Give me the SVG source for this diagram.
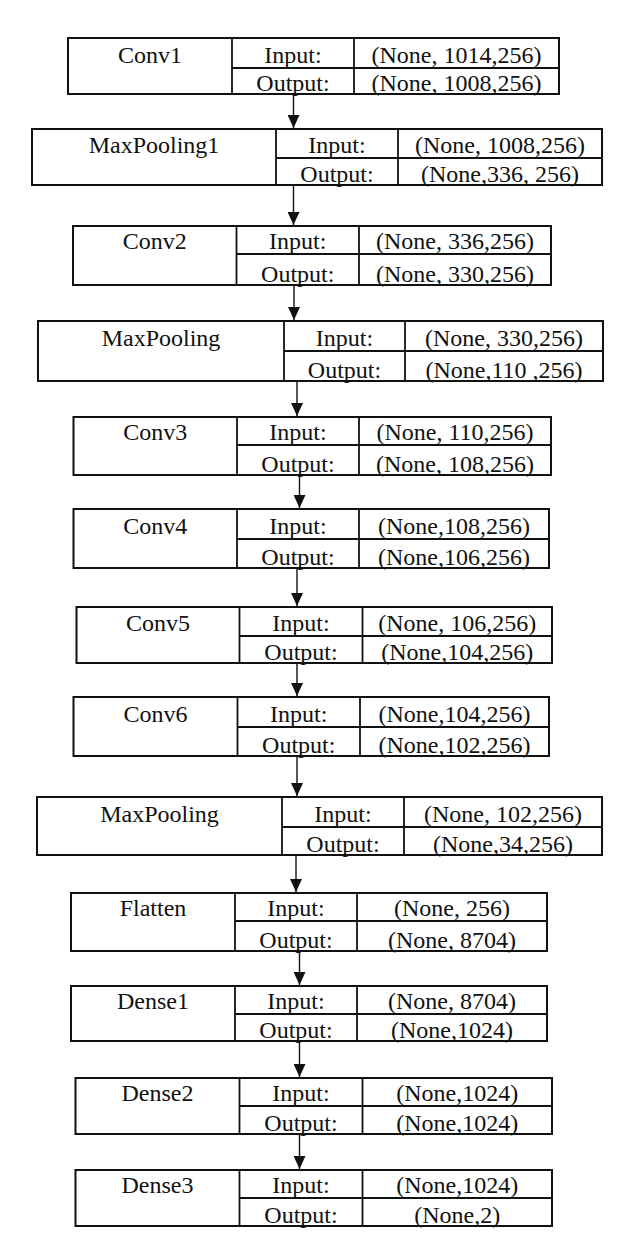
<svg xmlns="http://www.w3.org/2000/svg" width="636" height="1248" viewBox="0 0 636 1248" font-family="'Liberation Serif', 'DejaVu Serif', serif">
<style>
rect.box{fill:#fff;stroke:#111;stroke-width:2}
line.dv{stroke:#111;stroke-width:1.8}
text{font-family:'Liberation Serif','DejaVu Serif',serif;font-size:24px;fill:#111;text-anchor:middle}
line.ar{stroke:#111;stroke-width:1.4}
</style>
<defs>
<marker id="ah" viewBox="0 0 13 12" refX="13" refY="6" markerWidth="13" markerHeight="12" markerUnits="userSpaceOnUse" orient="auto">
<path d="M0,0 L13,6 L0,12 z" fill="#111"/>
</marker>
</defs>
<rect width="636" height="1248" fill="#fff"/>

<g id="connectors">
<line class="ar" x1="293.5" y1="95" x2="293.5" y2="128" marker-end="url(#ah)"/>
<line class="ar" x1="293.5" y1="186" x2="293.5" y2="225" marker-end="url(#ah)"/>
<line class="ar" x1="294" y1="286" x2="294" y2="320" marker-end="url(#ah)"/>
<line class="ar" x1="297" y1="382" x2="297" y2="416" marker-end="url(#ah)"/>
<line class="ar" x1="299.5" y1="476" x2="299.5" y2="508" marker-end="url(#ah)"/>
<line class="ar" x1="297" y1="569" x2="297" y2="606" marker-end="url(#ah)"/>
<line class="ar" x1="297" y1="664" x2="297" y2="696" marker-end="url(#ah)"/>
<line class="ar" x1="297" y1="757" x2="297" y2="796" marker-end="url(#ah)"/>
<line class="ar" x1="296" y1="856" x2="296" y2="892" marker-end="url(#ah)"/>
<line class="ar" x1="299.5" y1="952" x2="299.5" y2="985" marker-end="url(#ah)"/>
<line class="ar" x1="299.5" y1="1042" x2="299.5" y2="1077" marker-end="url(#ah)"/>
<line class="ar" x1="299.5" y1="1135" x2="299.5" y2="1169" marker-end="url(#ah)"/>
</g>

<g id="conv1">
<rect class="box" x="68" y="38" width="491" height="56"/>
<line class="dv" x1="232" y1="38" x2="232" y2="94"/><line class="dv" x1="354" y1="38" x2="354" y2="94"/><line class="dv" x1="232" y1="68" x2="559" y2="68"/>
<text x="150" y="63">Conv1</text><text x="293" y="63">Input:</text><text x="456.5" y="63">(None, 1014,256)</text>
<text x="293" y="90.5">Output:</text><text x="456.5" y="90.5">(None, 1008,256)</text>
</g>

<g id="maxpooling1">
<rect class="box" x="32" y="129" width="570" height="56"/>
<line class="dv" x1="276" y1="129" x2="276" y2="185"/><line class="dv" x1="398" y1="129" x2="398" y2="185"/><line class="dv" x1="276" y1="158" x2="602" y2="158"/>
<text x="154" y="153">MaxPooling1</text><text x="337" y="153">Input:</text><text x="500" y="153">(None, 1008,256)</text>
<text x="337" y="181.5">Output:</text><text x="500" y="181.5">(None,336, 256)</text>
</g>

<g id="conv2">
<rect class="box" x="73" y="226" width="478" height="59"/>
<line class="dv" x1="236.5" y1="226" x2="236.5" y2="285"/><line class="dv" x1="359" y1="226" x2="359" y2="285"/><line class="dv" x1="236.5" y1="254" x2="551" y2="254"/>
<text x="154.75" y="249">Conv2</text><text x="297.75" y="249">Input:</text><text x="455" y="249">(None, 336,256)</text>
<text x="297.75" y="281.5">Output:</text><text x="455" y="281.5">(None, 330,256)</text>
</g>

<g id="maxpooling2">
<rect class="box" x="38" y="321" width="565" height="60"/>
<line class="dv" x1="284" y1="321" x2="284" y2="381"/><line class="dv" x1="405" y1="321" x2="405" y2="381"/><line class="dv" x1="284" y1="351" x2="603" y2="351"/>
<text x="161" y="346">MaxPooling</text><text x="344.5" y="346">Input:</text><text x="504" y="346">(None, 330,256)</text>
<text x="344.5" y="377.5">Output:</text><text x="504" y="377.5">(None,110 ,256)</text>
</g>

<g id="conv3">
<rect class="box" x="73.5" y="417" width="477.5" height="58"/>
<line class="dv" x1="237" y1="417" x2="237" y2="475"/><line class="dv" x1="359" y1="417" x2="359" y2="475"/><line class="dv" x1="237" y1="445" x2="551" y2="445"/>
<text x="155.25" y="440">Conv3</text><text x="298" y="440">Input:</text><text x="455" y="440">(None, 110,256)</text>
<text x="298" y="471.5">Output:</text><text x="455" y="471.5">(None, 108,256)</text>
</g>

<g id="conv4">
<rect class="box" x="73.5" y="509" width="475.5" height="59"/>
<line class="dv" x1="237" y1="509" x2="237" y2="568"/><line class="dv" x1="359" y1="509" x2="359" y2="568"/><line class="dv" x1="237" y1="539" x2="549" y2="539"/>
<text x="155.25" y="534">Conv4</text><text x="298" y="534">Input:</text><text x="454" y="534">(None,108,256)</text>
<text x="298" y="564.5">Output:</text><text x="454" y="564.5">(None,106,256)</text>
</g>

<g id="conv5">
<rect class="box" x="76.5" y="607" width="475.5" height="56"/>
<line class="dv" x1="239.5" y1="607" x2="239.5" y2="663"/><line class="dv" x1="362.5" y1="607" x2="362.5" y2="663"/><line class="dv" x1="239.5" y1="636" x2="552" y2="636"/>
<text x="158" y="631">Conv5</text><text x="301" y="631">Input:</text><text x="457.25" y="631">(None, 106,256)</text>
<text x="301" y="659.5">Output:</text><text x="457.25" y="659.5">(None,104,256)</text>
</g>

<g id="conv6">
<rect class="box" x="73.5" y="697" width="475.5" height="59"/>
<line class="dv" x1="237.5" y1="697" x2="237.5" y2="756"/><line class="dv" x1="360" y1="697" x2="360" y2="756"/><line class="dv" x1="237.5" y1="727" x2="549" y2="727"/>
<text x="155.5" y="722">Conv6</text><text x="298.75" y="722">Input:</text><text x="454.5" y="722">(None,104,256)</text>
<text x="298.75" y="752.5">Output:</text><text x="454.5" y="752.5">(None,102,256)</text>
</g>

<g id="maxpooling3">
<rect class="box" x="37" y="797" width="565" height="58"/>
<line class="dv" x1="282" y1="797" x2="282" y2="855"/><line class="dv" x1="404" y1="797" x2="404" y2="855"/><line class="dv" x1="282" y1="827" x2="602" y2="827"/>
<text x="159.5" y="822">MaxPooling</text><text x="343" y="822">Input:</text><text x="503" y="822">(None, 102,256)</text>
<text x="343" y="851.5">Output:</text><text x="503" y="851.5">(None,34,256)</text>
</g>

<g id="flatten">
<rect class="box" x="71" y="893" width="476" height="58"/>
<line class="dv" x1="235" y1="893" x2="235" y2="951"/><line class="dv" x1="357" y1="893" x2="357" y2="951"/><line class="dv" x1="235" y1="921" x2="547" y2="921"/>
<text x="153" y="916">Flatten</text><text x="296" y="916">Input:</text><text x="452" y="916">(None, 256)</text>
<text x="296" y="947.5">Output:</text><text x="452" y="947.5">(None, 8704)</text>
</g>

<g id="dense1">
<rect class="box" x="71" y="986" width="476" height="55"/>
<line class="dv" x1="235" y1="986" x2="235" y2="1041"/><line class="dv" x1="357" y1="986" x2="357" y2="1041"/><line class="dv" x1="235" y1="1014" x2="547" y2="1014"/>
<text x="153" y="1009">Dense1</text><text x="296" y="1009">Input:</text><text x="452" y="1009">(None, 8704)</text>
<text x="296" y="1037.5">Output:</text><text x="452" y="1037.5">(None,1024)</text>
</g>

<g id="dense2">
<rect class="box" x="75.5" y="1078" width="476.5" height="56"/>
<line class="dv" x1="239.5" y1="1078" x2="239.5" y2="1134"/><line class="dv" x1="362.5" y1="1078" x2="362.5" y2="1134"/><line class="dv" x1="239.5" y1="1106" x2="552" y2="1106"/>
<text x="157.5" y="1101">Dense2</text><text x="301" y="1101">Input:</text><text x="457.25" y="1101">(None,1024)</text>
<text x="301" y="1130.5">Output:</text><text x="457.25" y="1130.5">(None,1024)</text>
</g>

<g id="dense3">
<rect class="box" x="75.5" y="1170" width="476.5" height="56"/>
<line class="dv" x1="239.5" y1="1170" x2="239.5" y2="1226"/><line class="dv" x1="362.5" y1="1170" x2="362.5" y2="1226"/><line class="dv" x1="239.5" y1="1198" x2="552" y2="1198"/>
<text x="157.5" y="1193">Dense3</text><text x="301" y="1193">Input:</text><text x="457.25" y="1193">(None,1024)</text>
<text x="301" y="1222.5">Output:</text><text x="457.25" y="1222.5">(None,2)</text>
</g>
</svg>
